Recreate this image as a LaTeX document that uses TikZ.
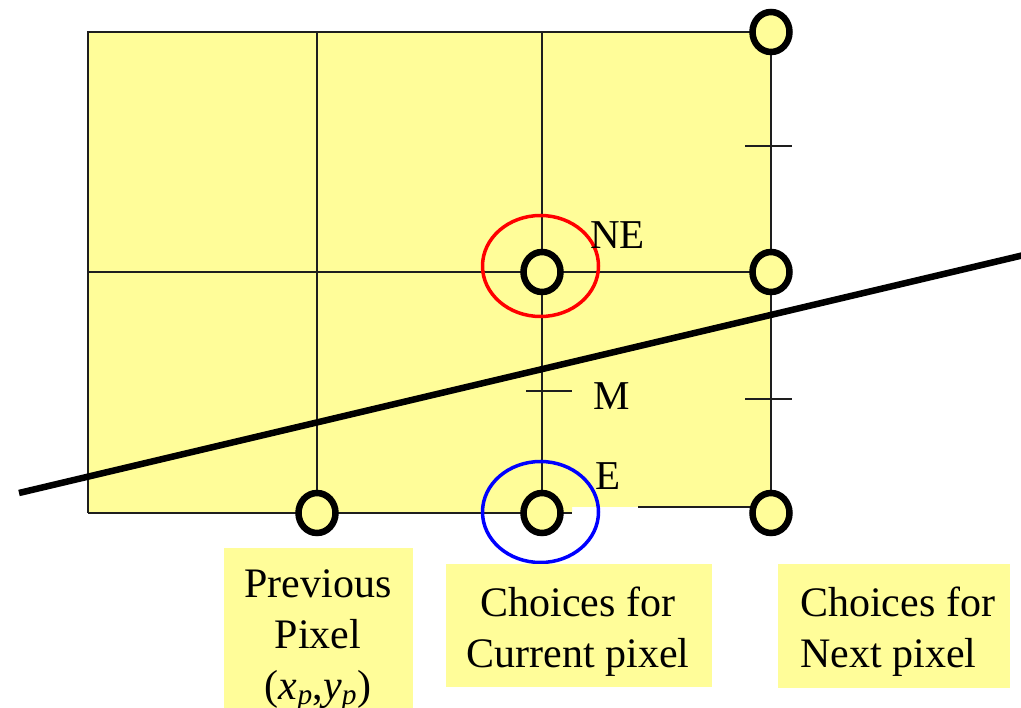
\documentclass[tikz,border=0pt]{standalone}
\usepackage{fontspec}
\setmainfont{Liberation Serif}
\usetikzlibrary{shapes.geometric}
\definecolor{padyellow}{RGB}{255,253,153}
\definecolor{gridcol}{RGB}{30,30,30}
\begin{document}
\begin{tikzpicture}[x=1pt,y=-1pt,
  gridline/.style={line width=1.6pt, draw=gridcol},
  tickline/.style={line width=1.4pt, draw=gridcol},
  pixel/.style={ellipse, draw=black, line width=6.5pt, fill=padyellow,
    minimum width=37pt, minimum height=40pt, inner sep=0pt, outer sep=0pt},
  choice/.style={ellipse, line width=3.5pt, minimum width=116pt,
    minimum height=101pt, inner sep=0pt},
  biglabel/.style={font=\fontsize{42}{51}\selectfont, inner sep=0pt},
  ptlabel/.style={font=\fontsize{41}{51}\selectfont, inner sep=0pt, anchor=base west},
  labelbox/.style={fill=padyellow, draw=none}
]
\useasboundingbox (0,0) rectangle (1021,708);

% yellow area of the grid
\fill[padyellow] (88,32) -- (771,32) -- (771,507) -- (572,507) -- (572,513) -- (88,513) -- cycle;

% grid coordinates
\coordinate (tl) at (88,32);
\coordinate (tr) at (771,32);
\coordinate (ml) at (88,272);
\coordinate (mr) at (771,272);
\coordinate (bl) at (88,513);
\coordinate (bgap1) at (572,513);
\coordinate (bgap2) at (638,507);
\coordinate (br) at (771,507);
\coordinate (c1t) at (317,32);
\coordinate (c1b) at (317,513);
\coordinate (c2t) at (542,32);
\coordinate (c2b) at (542,513);

% grid lines
\draw[gridline] (bl) -- (tl) -- (tr) -- (br);
\draw[gridline] (ml) -- (mr);
\draw[gridline] (c1t) -- (c1b);
\draw[gridline] (c2t) -- (c2b);
\draw[gridline] (bl) -- (bgap1);
\draw[gridline] (bgap2) -- (br);

% half-way ticks
\coordinate (t1a) at (745,146); \coordinate (t1b) at (792,146);
\coordinate (t2a) at (745,399); \coordinate (t2b) at (792,399);
\coordinate (tma) at (526,391); \coordinate (tmb) at (572,391);
\draw[tickline] (t1a) -- (t1b);
\draw[tickline] (t2a) -- (t2b);
\draw[tickline] (tma) -- (tmb);

% the line being drawn
\coordinate (lineA) at (19,493);
\coordinate (lineB) at (1024,255);
\draw[line width=6.5pt, black] (lineA) -- (lineB);

% pixels
\node[pixel] (prev) at (317,513) {};
\node[pixel] (E) at (542,513) {};
\node[pixel] (NE) at (542,272) {};
\node[pixel] (nmid) at (771,272) {};
\node[pixel] (ntop) at (771,32) {};
\node[pixel] (nbot) at (771,513) {};

% choice rings
\node[choice, draw=red] (ringNE) at (540.5,266) {};
\node[choice, draw=blue] (ringE) at (540.5,512) {};

% point labels
\node[ptlabel] (labNE) at (590,249) {NE};
\node[ptlabel] (labM) at (593,410) {M};
\node[ptlabel] (labE) at (595,490) {E};

% label boxes
\fill[labelbox] (224,548) rectangle (413,712);
\fill[labelbox] (446,564) rectangle (712,687);
\fill[labelbox] (778,564) rectangle (1010,688);

\node[biglabel, align=center, anchor=base] (prevtext) at (318,699)
  {Previous\\Pixel\\(\textit{x\textsubscript{p}},\textit{y\textsubscript{p}})};
\node[biglabel, align=center, anchor=base] (curtext) at (578,667)
  {Choices for\\Current pixel};
\node[biglabel, align=left, anchor=base west] (nexttext) at (800,667)
  {Choices for\\Next pixel};
\end{tikzpicture}
\end{document}
